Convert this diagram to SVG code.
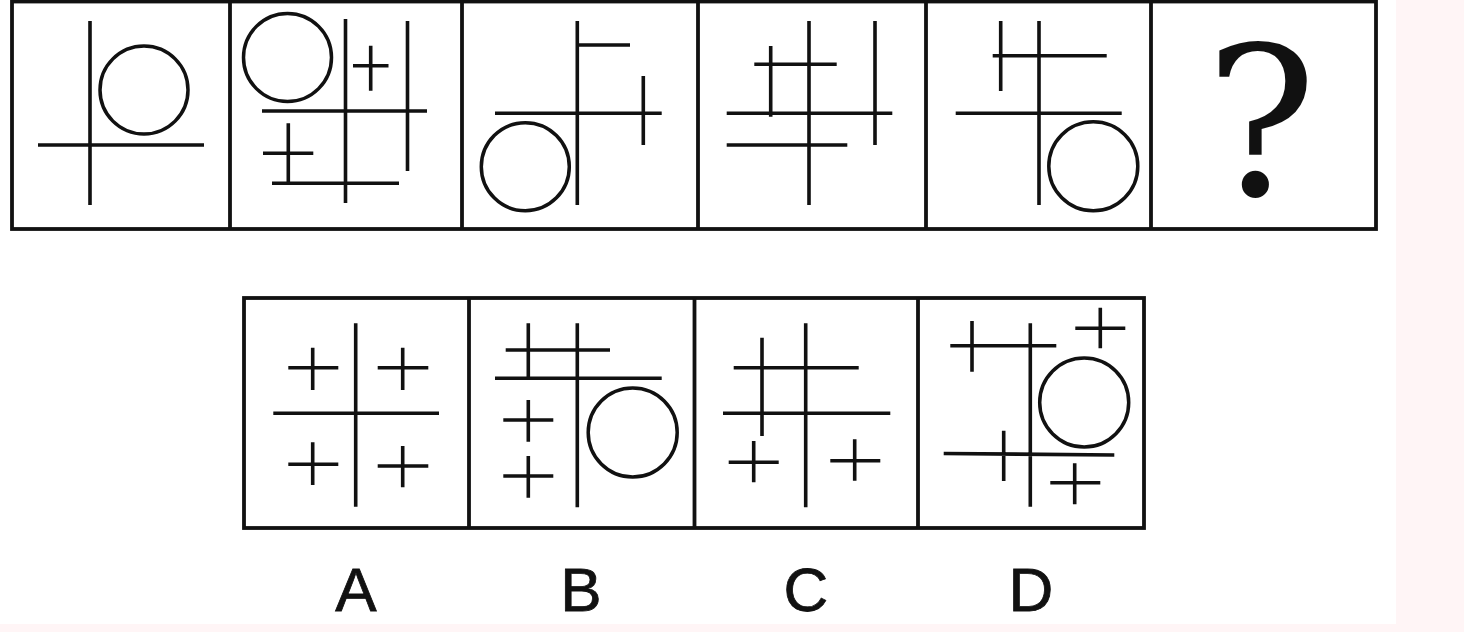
<svg xmlns="http://www.w3.org/2000/svg" width="1464" height="632" viewBox="0 0 1464 632">
<style>
.frame{fill:none;stroke:#111;stroke-width:3.8}
.ln{stroke:#111;stroke-width:3.6;stroke-linecap:butt;fill:none}
.cir{fill:none;stroke:#111;stroke-width:3.5}
.lbl{font-family:"Liberation Sans",Arial,sans-serif;font-size:62px;fill:#111;text-anchor:middle;stroke:#111;stroke-width:0.8}
.q{font-family:"DejaVu Serif","Liberation Serif",serif;font-size:208px;fill:#111;text-anchor:middle}
</style>
<rect x="0" y="0" width="1464" height="632" fill="#fff5f6"/>
<rect x="0" y="0" width="1396" height="624" fill="#ffffff"/>

<g id="top-row">
<rect class="frame" x="12" y="1.5" width="1364" height="227.5"/>
<path class="ln" d="M230 0V230M462 0V230M698 0V230M926 0V230M1151 0V230" style="stroke-width:3.8"/>
</g>

<g id="panel1">
<path class="ln" d="M90 21V205M38 145H204"/>
<circle class="cir" cx="144" cy="90" r="44"/>
</g>

<g id="panel2">
<circle class="cir" cx="287.5" cy="57.5" r="44"/>
<path class="ln" d="M345.5 19V203M407.5 21V171M262 111H427M272 183.3H399M353 65.7H388.5M370.7 45.7V90.7M263 153.3H313.3M288.3 123.3V183.3"/>
</g>

<g id="panel3">
<path class="ln" d="M577.3 21V205M577.3 45H630M495 113.3H661.7M643.3 76V145"/>
<circle class="cir" cx="525.3" cy="166.7" r="44"/>
</g>

<g id="panel4">
<path class="ln" d="M809 21V205M875 21V145M770.7 46V116.7M754.3 64.3H836.7M726.7 113.3H892.3M726.7 145H847.3"/>
</g>

<g id="panel5">
<path class="ln" d="M1039 21V205M1000.7 21V91M992.7 55.7H1106.7M955.7 113.3H1121.7"/>
<circle class="cir" cx="1093.3" cy="166.2" r="44.5"/>
</g>

<g id="panel6">
<text class="q" x="1261" y="195">?</text>
</g>

<g id="bottom-row">
<rect class="frame" x="244" y="298" width="900" height="230"/>
<path class="ln" d="M469 298V528M694.5 298V528M918 298V528" style="stroke-width:3.8"/>
</g>

<g id="optionA">
<path class="ln" d="M355.7 323.3V506.7M273.3 413.3H439"/>
<path class="ln" d="M288.3 367.7H338.3M312.7 347.7V390M377.7 367.7H428.3M402.7 347.7V390M288.3 464.3H338.3M312.7 442.3V485M377.7 466H428.3M402.7 446V487.3"/>
</g>

<g id="optionB">
<path class="ln" d="M577.3 323.3V507.3M528.3 323.3V377.7M505.7 350H610M495 378.3H661.7"/>
<circle class="cir" cx="632.7" cy="432.5" r="44.5"/>
<path class="ln" d="M503.3 420H553.3M528.3 400V441.7M503.3 476H553.3M528.3 456V497.7"/>
</g>

<g id="optionC">
<path class="ln" d="M805.7 323.3V507.3M762 337.7V436M733.7 367.7H858.7M723 413.3H890.3"/>
<path class="ln" d="M728.7 462.3H778.7M753.7 441V482.3M830.3 460.7H880.3M854.7 439.3V480.7"/>
</g>

<g id="optionD">
<path class="ln" d="M1030.3 323.3V506.7M950.3 345.7H1056.3M972 321V371.7M1075.3 328.3H1125.3M1100.3 307.7V348.3M943.7 453.5L1114.3 455M1003.7 430.7V481M1050.3 482.7H1100.3M1074.7 463.3V504.3"/>
<circle class="cir" cx="1084.2" cy="402.5" r="44.5"/>
</g>

<g id="labels">
<text class="lbl" x="356" y="611">A</text>
<text class="lbl" x="581" y="611">B</text>
<text class="lbl" x="806" y="611">C</text>
<text class="lbl" x="1031" y="611">D</text>
</g>
</svg>
